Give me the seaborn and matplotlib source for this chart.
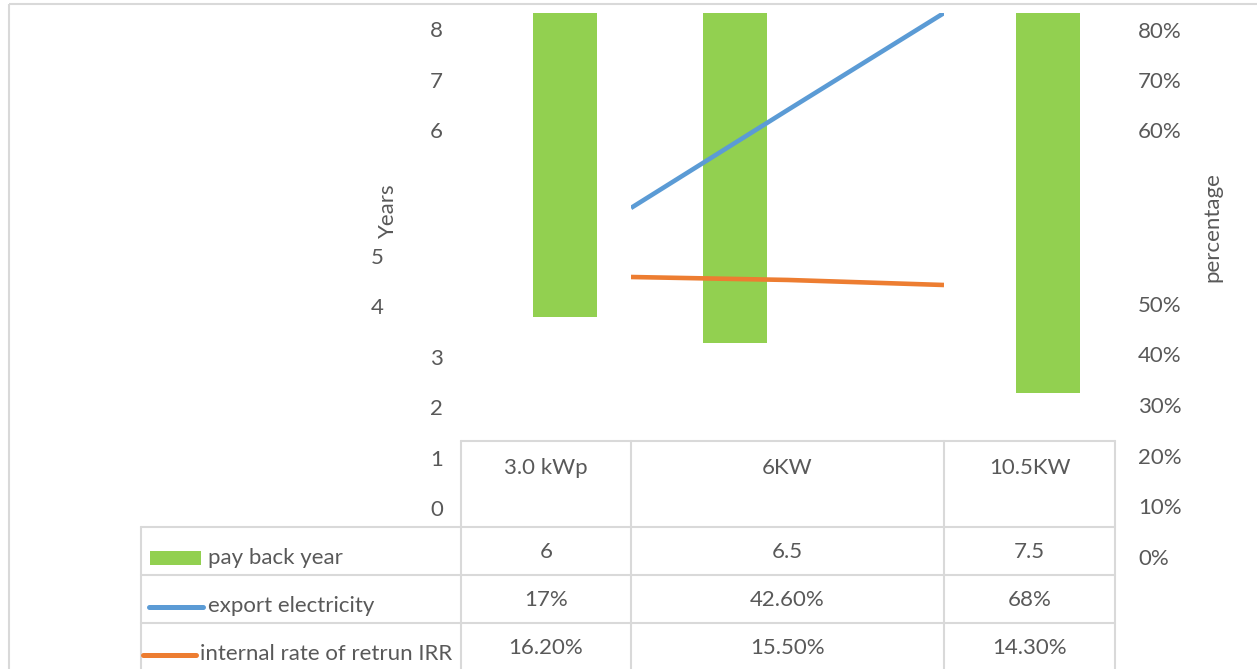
import matplotlib
matplotlib.use("Agg")
import matplotlib.pyplot as plt
from matplotlib.patches import Rectangle
import numpy as np
import pandas as pd
import seaborn as sns

# ---- data -------------------------------------------------------------
systems = ["3.0 kWp", "6KW", "10.5KW"]
payback_years = [6, 6.5, 7.5]
export_share = [17, 42.6, 68]        # percent
irr = [16.2, 15.5, 14.3]             # percent
row_labels = ["pay back year", "export electricity", "internal rate of retrun IRR"]
year_ticks = [0, 1, 2, 3, 4, 5, 6, 7, 8]
pct_ticks = [0, 10, 20, 30, 40, 50, 60, 70, 80]

# number formats used in the data table cells
payback_fmt = ["{:g}", "{:g}", "{:g}"]
export_fmt = ["{:.0f}%", "{:.2f}%", "{:.0f}%"]
irr_fmt = ["{:.2f}%", "{:.2f}%", "{:.2f}%"]

# ---- style ------------------------------------------------------------
GREEN = "#92D050"
BLUE = "#5B9BD5"
ORANGE = "#ED7D31"
GRID = "#D9D9D9"
TEXT = "#595959"

sns.set_theme(style="white")
plt.rcParams["font.family"] = ["Lato", "DejaVu Sans"]
FS = 16

W, H = 1257, 669
fig = plt.figure(figsize=(W / 100, H / 100), dpi=100)


def rect(x0, y0, x1, y1):
    """Figure-fraction rectangle from pixel edges measured from the top-left."""
    return [x0 / W, 1 - y1 / H, (x1 - x0) / W, (y1 - y0) / H]


col_edges = [461, 631, 944, 1115]
plot_top, plot_bottom = 13, 557
header_top = 441
row_edges = [527, 575, 623, 671]
legend_left = 141

# ---- overlay for the frame and the data table -------------------------
tab = fig.add_axes([0, 0, 1, 1], zorder=0)
tab.set_xlim(0, W)
tab.set_ylim(H, 0)
tab.set_axis_off()

tab.plot([9, 9], [4, H], color=GRID, lw=1.5, solid_capstyle="butt")
tab.plot([9, W], [4, 4], color=GRID, lw=1.5, solid_capstyle="butt")

tab.plot([col_edges[0], col_edges[-1]], [header_top, header_top], color=GRID, lw=1.5)
for y in row_edges[:-1]:
    tab.plot([legend_left, col_edges[-1]], [y, y], color=GRID, lw=1.5)
for x in col_edges:
    tab.plot([x, x], [header_top, H], color=GRID, lw=1.5)
tab.plot([legend_left, legend_left], [row_edges[0], H], color=GRID, lw=1.5)

centers = [(a + b) / 2 for a, b in zip(col_edges[:-1], col_edges[1:])]
for cx, name in zip(centers, systems):
    tab.text(cx, 468, name, ha="center", va="center", fontsize=FS, color=TEXT)

rows = [
    (payback_years, payback_fmt),
    (export_share, export_fmt),
    (irr, irr_fmt),
]
for r, (vals, fmts) in enumerate(rows):
    cy = (row_edges[r] + row_edges[r + 1]) / 2 + 1
    for cx, v, f in zip(centers, vals, fmts):
        tab.text(cx, cy, f.format(v), ha="center", va="center", fontsize=FS, color=TEXT)

# legend keys inside the table
tab.add_patch(Rectangle((150, 551), 51, 14, color=GREEN, lw=0))
tab.plot([149, 203], [607, 607], color=BLUE, lw=3.6, solid_capstyle="round")
tab.plot([143, 196], [655, 655], color=ORANGE, lw=3.6, solid_capstyle="round")
tab.text(208, 558, row_labels[0], ha="left", va="center", fontsize=FS, color=TEXT)
tab.text(208, 606, row_labels[1], ha="left", va="center", fontsize=FS, color=TEXT)
tab.text(200, 654, row_labels[2], ha="left", va="center", fontsize=FS, color=TEXT)

# ---- bars: pay back years ---------------------------------------------
ax = fig.add_axes(rect(col_edges[0], plot_top, col_edges[-1], plot_bottom), zorder=1)
bar_offset = 103.5
bar_pos = [e - col_edges[0] + bar_offset for e in col_edges[:-1]]
df = pd.DataFrame({"pos": bar_pos, "years": payback_years})
sns.barplot(data=df, x="pos", y="years", native_scale=True,
            width=64 / (bar_pos[1] - bar_pos[0]), color=GREEN, saturation=1,
            errorbar=None, linewidth=0, ax=ax)
ax.set_xlim(0, col_edges[-1] - col_edges[0])
ax.set_ylim((plot_bottom - plot_top) / 50.7, 0)
ax.set_axis_off()

# left axis labels (years)
axL = ax.twinx()
axL.yaxis.tick_left()
axL.set_ylim(-0.97, 9.82)
axL.set_yticks([0, 1, 2, 3, 4, 5, 7.5, 8.5, 9.5], [str(t) for t in year_ticks])
axL.tick_params(axis="y", length=0, labelsize=FS, labelcolor=TEXT)
for t, tick in zip(year_ticks, axL.yaxis.get_major_ticks()):
    tick.set_pad(55.4 if t in (4, 5) else 13)
for s in axL.spines.values():
    s.set_visible(False)
axL.patch.set_visible(False)

# right axis labels (percentage)
axR = ax.twinx()
axR.set_ylim(0, 107.3)
axR.set_yticks([0, 10, 20, 30, 40, 50, 84.2, 94.1, 104.0], [f"{t}%" for t in pct_ticks])
axR.tick_params(axis="y", length=0, pad=16.6, labelsize=FS, labelcolor=TEXT)
for s in axR.spines.values():
    s.set_visible(False)
axR.patch.set_visible(False)

fig.text(388 / W, 1 - 211 / H, "Years", rotation=90, ha="center", va="center",
         fontsize=FS, color=TEXT)
fig.text(1212 / W, 1 - 227 / H, "percentage", rotation=90, ha="center", va="center",
         fontsize=FS, color=TEXT)

# ---- lines: export electricity and IRR --------------------------------
x_idx = np.arange(len(systems))
axB = fig.add_axes(rect(col_edges[1], plot_top, col_edges[2], plot_bottom), zorder=2)
sns.lineplot(x=x_idx, y=export_share, color=BLUE, linewidth=3.3, ax=axB)
axB.lines[0].set_solid_capstyle("butt")
axB.set_xlim(0, 2)
axB.set_ylim(-74.3, 68)
axB.set_axis_off()

axO = fig.add_axes(rect(col_edges[1], plot_top, col_edges[2], plot_bottom), zorder=3)
sns.lineplot(x=x_idx, y=irr, color=ORANGE, linewidth=3.3, ax=axO)
axO.lines[0].set_solid_capstyle("butt")
axO.set_xlim(0, 2)
axO.set_ylim(-50.3, 78.9)
axO.set_axis_off()

fig.savefig("out.png", dpi=100)
